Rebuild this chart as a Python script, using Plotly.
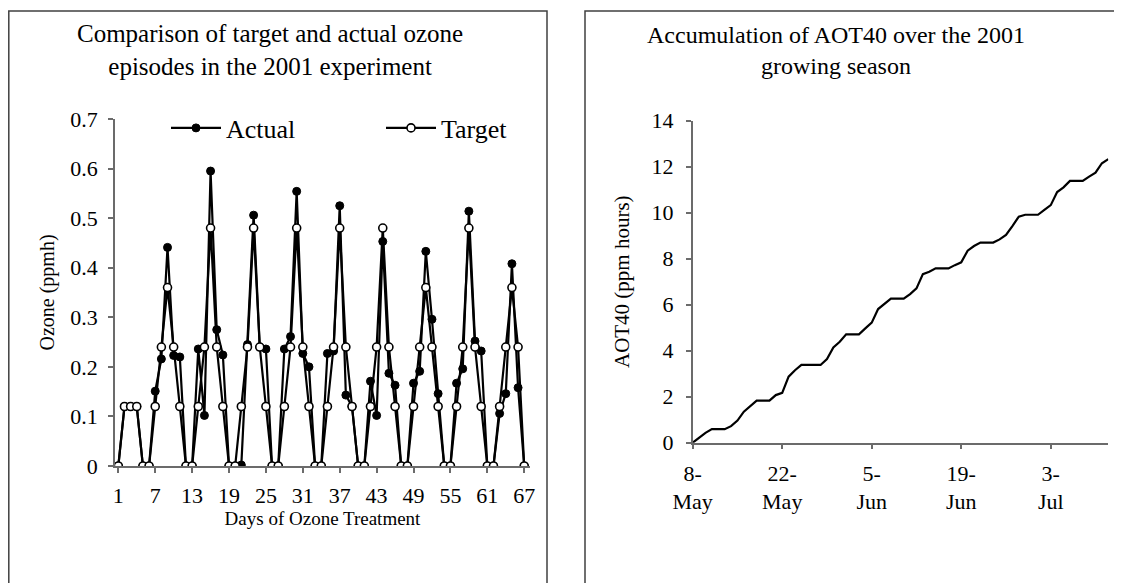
import plotly.graph_objects as go
import pandas as pd

# ---------------- data ----------------
days = list(range(1, 68))
target = [0, 0.12, 0.12, 0.12, 0, 0,
          0.12, 0.24, 0.36, 0.24, 0.12, 0, 0,
          0.12, 0.24, 0.48, 0.24, 0.12, 0, 0,
          0.12, 0.24, 0.48, 0.24, 0.12, 0, 0,
          0.12, 0.24, 0.48, 0.24, 0.12, 0, 0,
          0.12, 0.24, 0.48, 0.24, 0.12, 0, 0,
          0.12, 0.24, 0.48, 0.24, 0.12, 0, 0,
          0.12, 0.24, 0.36, 0.24, 0.12, 0, 0,
          0.12, 0.24, 0.48, 0.24, 0.12, 0, 0,
          0.12, 0.24, 0.36, 0.24, 0]
actual = [0, 0.12, 0.12, 0.12, 0, 0,
          0.151, 0.216, 0.441, 0.223, 0.22, 0, 0,
          0.236, 0.102, 0.595, 0.275, 0.224, 0, 0,
          0.002, 0.245, 0.506, 0.24, 0.236, 0, 0,
          0.236, 0.261, 0.554, 0.227, 0.2, 0, 0,
          0.227, 0.232, 0.525, 0.143, 0.12, 0, 0,
          0.171, 0.102, 0.453, 0.187, 0.163, 0, 0,
          0.167, 0.191, 0.433, 0.296, 0.146, 0, 0,
          0.167, 0.196, 0.514, 0.252, 0.232, 0, 0,
          0.106, 0.146, 0.408, 0.158, 0]
day_ticks = [1, 7, 13, 19, 25, 31, 37, 43, 49, 55, 61, 67]

aot40 = [0, 0.23, 0.43, 0.59, 0.59, 0.59,
         0.72, 0.96, 1.35, 1.57, 1.83, 1.83, 1.83,
         2.07, 2.17, 2.87, 3.15, 3.38, 3.38, 3.38,
         3.38, 3.64, 4.14, 4.39, 4.71, 4.71, 4.71,
         4.97, 5.22, 5.81, 6.03, 6.26, 6.26, 6.26,
         6.46, 6.71, 7.33, 7.43, 7.58, 7.58, 7.58,
         7.72, 7.84, 8.35, 8.55, 8.70, 8.70, 8.70,
         8.84, 9.03, 9.42, 9.83, 9.91, 9.91, 9.91,
         10.12, 10.33, 10.90, 11.10, 11.38, 11.38, 11.38,
         11.57, 11.74, 12.15, 12.33]
aot_dates = pd.date_range("2001-05-08", periods=len(aot40), freq="D")
date_tickvals = ["2001-05-08", "2001-05-22", "2001-06-05", "2001-06-19", "2001-07-03"]
date_ticktext = ["8-<br>May", "22-<br>May", "5-<br>Jun", "19-<br>Jun", "3-<br>Jul"]

# ---------------- figure ----------------
W, H = 1122, 583
OFF = 8  # page body margin offset of the rendered figure
FONT = "Times New Roman, Liberation Serif, serif"
AX = "#6b6b6b"

def px(x):
    return (x - OFF) / W

def py(y):
    return (H - (y - OFF)) / H

fig = go.Figure()
fig.add_trace(go.Scatter(
    x=days, y=actual, name="Actual", mode="lines+markers",
    line=dict(color="black", width=2.2),
    marker=dict(symbol="circle", size=8, color="black", line=dict(color="black", width=1)),
    xaxis="x", yaxis="y"))
fig.add_trace(go.Scatter(
    x=days, y=target, name="Target", mode="lines+markers",
    line=dict(color="black", width=2.2),
    marker=dict(symbol="circle", size=8, color="white", line=dict(color="black", width=1.6)),
    xaxis="x", yaxis="y"))
fig.add_trace(go.Scatter(
    x=aot_dates, y=aot40, name="AOT40", mode="lines", showlegend=False,
    line=dict(color="black", width=2.2),
    xaxis="x2", yaxis="y2"))

axis_common = dict(showgrid=False, zeroline=False, showline=True, linecolor=AX, linewidth=1.5,
                   ticks="outside", ticklen=5, tickcolor=AX, tickwidth=1.5, automargin=False,
                   tickfont=dict(family=FONT, size=22, color="black"))

fig.update_layout(
    width=W, height=H,
    margin=dict(l=0, r=0, t=0, b=0, autoexpand=False),
    paper_bgcolor="white", plot_bgcolor="white",
    font=dict(family=FONT, color="black"),
    xaxis=dict(domain=[px(115), px(530)], range=[0.46, 67.94], anchor="y",
               tickmode="array", tickvals=day_ticks, ticklabelstandoff=4,
               title=dict(text="Days of Ozone Treatment", font=dict(family=FONT, size=19), standoff=1),
               **axis_common),
    yaxis=dict(domain=[py(466), py(119)], range=[0, 0.7], anchor="x",
               tickmode="array", tickvals=[0, 0.1, 0.2, 0.3, 0.4, 0.5, 0.6, 0.7],
               ticktext=["0", "0.1", "0.2", "0.3", "0.4", "0.5", "0.6", "0.7"],
               ticklabelstandoff=6,
               title=dict(text="Ozone (ppmh)", font=dict(family=FONT, size=20), standoff=10),
               **axis_common),
    xaxis2=dict(domain=[px(692.7), px(1108.3)], type="date",
                range=["2001-05-08", "2001-07-12"], anchor="y2",
                tickmode="array", tickvals=date_tickvals, ticktext=date_ticktext,
                ticklabelstandoff=5,
                **axis_common),
    yaxis2=dict(domain=[py(442.7), py(120.7)], range=[0, 14], anchor="x2",
                tickmode="array", tickvals=[0, 2, 4, 6, 8, 10, 12, 14],
                ticklabelstandoff=8,
                title=dict(text="AOT40 (ppm hours)", font=dict(family=FONT, size=21), standoff=16),
                **axis_common),
    legend=dict(orientation="h", x=px(166), y=py(128), xanchor="left", yanchor="middle",
                font=dict(family=FONT, size=26), bgcolor="rgba(0,0,0,0)",
                itemwidth=50, entrywidth=150, entrywidthmode="pixels",
                tracegroupgap=0),
    shapes=[
        dict(type="rect", xref="paper", yref="paper", x0=px(8.8), x1=px(547), y0=-0.05, y1=py(11),
             line=dict(color="#404040", width=1.5), fillcolor="rgba(0,0,0,0)", layer="below"),
        dict(type="rect", xref="paper", yref="paper", x0=px(585), x1=1.05, y0=-0.05, y1=py(11),
             line=dict(color="#404040", width=1.5), fillcolor="rgba(0,0,0,0)", layer="below"),
    ],
    annotations=[
        dict(text="Comparison of target and actual ozone<br>episodes in the 2001 experiment",
             xref="paper", yref="paper", x=px(270), y=py(50), xanchor="center", yanchor="middle",
             showarrow=False, font=dict(family=FONT, size=25)),
        dict(text="Accumulation of AOT40 over the 2001<br>growing season",
             xref="paper", yref="paper", x=px(836), y=py(50), xanchor="center", yanchor="middle",
             showarrow=False, font=dict(family=FONT, size=24)),
    ],
)

fig.write_html("out.html")
